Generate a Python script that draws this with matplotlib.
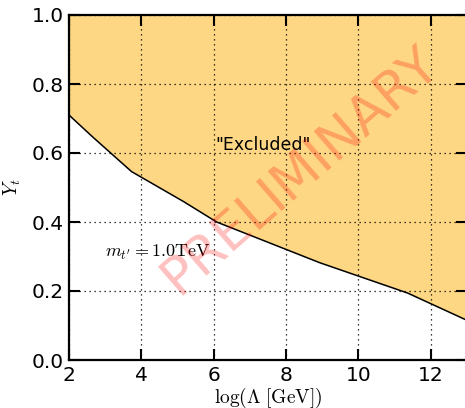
import matplotlib
matplotlib.use("Agg")
import matplotlib.pyplot as plt
import numpy as np

plt.rcParams["mathtext.fontset"] = "cm"

# data
log_lambda = [2.0, 2.67, 3.73, 5.17, 6.08, 8.93, 11.36, 13.0]
yt_limit = [0.71, 0.645, 0.546, 0.459, 0.40, 0.282, 0.194, 0.115]
xticks = [2, 4, 6, 8, 10, 12]
yticks = [0.0, 0.2, 0.4, 0.6, 0.8, 1.0]

fig = plt.figure(figsize=(4.65, 4.08), dpi=100)
ax = fig.add_axes([69/465, 48/408, 398/465, 345/408])

ax.fill_between(log_lambda, yt_limit, 1.0, color="#FDD783", linewidth=0, zorder=1)
ax.plot(log_lambda, yt_limit, color="black", linewidth=1.1, zorder=3)

ax.set_xlim(2, 13)
ax.set_ylim(0, 1)
ax.set_xticks(xticks)
ax.set_yticks(yticks)
ax.set_yticklabels([f"{v:.1f}" for v in yticks])
ax.grid(True, color="black", linestyle=(0, (1, 3)), linewidth=0.9, zorder=2)
ax.set_axisbelow(False)

ax.tick_params(which="major", direction="in", length=8, width=1.5,
               top=True, right=True, labelsize=14.5, pad=4)
for s in ax.spines.values():
    s.set_linewidth(1.6)

ax.set_xlabel(r"$\log(\Lambda\ [\mathrm{GeV}])$", fontsize=14, labelpad=1)
ax.set_ylabel(r"$Y_t$", fontsize=14, labelpad=6)

ax.text(7.36, 0.623, '"Excluded"', fontsize=12.5, ha="center", va="center", zorder=4)
ax.text(3.0, 0.313, r"$m_{t'}=1.0\mathrm{TeV}$", fontsize=13, ha="left", va="center", zorder=4)

ax.text(8.4, 0.55, "PRELIMINARY", fontsize=38, color="red", alpha=0.25,
        rotation=41, ha="center", va="center", zorder=5)

fig.savefig("out.png", dpi=100)
